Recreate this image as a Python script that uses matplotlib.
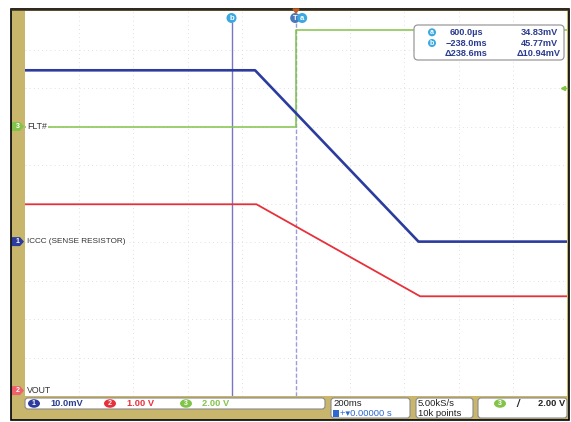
import numpy as np
import matplotlib.pyplot as plt
from matplotlib.patches import FancyBboxPatch, Rectangle, Ellipse, Polygon

plt.rcParams['font.family'] = ['Liberation Sans', 'DejaVu Sans']

# Scope settings: 10 x 10 divisions, 200 ms/div, trigger at centre
t_per_div = 0.2
n_div_x = 10
n_div_y = 10

# Channel 1: ICCC (sense resistor), mV, 10.0 mV/div
ch1_t = [-1.0, -0.151, 0.452, 1.0]
ch1_v = [44.5, 44.5, 0.0, 0.0]
ch1_scale = 10.0
ch1_pos = -0.99

# Channel 2: VOUT, V, 1.00 V/div
ch2_t = [-1.0, -0.146, 0.458, 1.0]
ch2_v = [4.84, 4.84, 2.45, 2.45]
ch2_scale = 1.0
ch2_pos = -4.86

# Channel 3: FLT#, V, 2.00 V/div
ch3_t = [-1.0, 0.0006, 0.0006, 1.0]
ch3_v = [0.0, 0.0, 5.0, 5.0]
ch3_scale = 2.0
ch3_pos = 2.0
trig_level = 2.0

# cursors
cursor_a = 0.0006
cursor_b = -0.238
readout = [("a", "600.0µs", "34.83mV"),
           ("b", "\u2212238.0ms", "45.77mV"),
           ("", "\u0394238.6ms", "\u039410.94mV")]

blue = "#2b3c9e"
red = "#e8303a"
green = "#82c44a"
tan = "#c8b66c"
navy = "#2a3c8f"
curs = "#7676c6"

W, H = 571, 422
fig = plt.figure(figsize=(W / 100, H / 100), dpi=100)

def pixel_axes(z):
    a = fig.add_axes([0, 0, 1, 1])
    a.set_xlim(0, W)
    a.set_ylim(H, 0)
    a.axis("off")
    a.set_zorder(z)
    a.patch.set_alpha(0)
    return a

bg = pixel_axes(0)
ov = pixel_axes(2)

x0, x1, y0, y1 = 25, 567, 11, 396
ax = fig.add_axes([x0 / W, 1 - y1 / H, (x1 - x0) / W, (y1 - y0) / H])
ax.set_xlim(-n_div_x / 2 * t_per_div, n_div_x / 2 * t_per_div)
ax.set_ylim(-n_div_y / 2, n_div_y / 2)
ax.set_xticks([])
ax.set_yticks([])
for s in ax.spines.values():
    s.set_visible(False)
ax.set_zorder(1)

# bezel
bg.add_patch(Rectangle((11, 9), 558, 411, facecolor=tan, edgecolor="black", lw=1.2, zorder=0))
ov.plot([11, 569], [10.3, 10.3], color="#3a2e1a", lw=1.1, zorder=1)

# graticule
for k in range(-4, 5):
    ax.axvline(k * t_per_div, color="#d6d6d6", lw=0.6, ls=(0, (1, 4)), zorder=0)
    ax.axhline(k, color="#d6d6d6", lw=0.6, ls=(0, (1, 4)), zorder=0)

# traces
ax.plot(ch2_t, np.array(ch2_v) / ch2_scale + ch2_pos, color=red, lw=1.3, zorder=3)
ax.plot(ch3_t, np.array(ch3_v) / ch3_scale + ch3_pos, color=green, lw=1.1, zorder=3)
ax.plot(ch1_t, np.array(ch1_v) / ch1_scale + ch1_pos, color=blue, lw=1.9, zorder=4)

# cursors
ax.plot([cursor_b, cursor_b], [-5, 4.7], color=curs, lw=1.0, zorder=2)
ax.plot([cursor_a, cursor_a], [-5, 4.7], color="#9c9cd8", lw=1.0, ls=(0, (3, 1.5)), zorder=2)

def px(t):
    return x0 + (t - ax.get_xlim()[0]) / (ax.get_xlim()[1] - ax.get_xlim()[0]) * (x1 - x0)

def py(d):
    return y1 - (d - ax.get_ylim()[0]) / (ax.get_ylim()[1] - ax.get_ylim()[0]) * (y1 - y0)

def badge(x, y, txt, fc, w=10, h=10, fs=5.5):
    ov.add_patch(Ellipse((x, y), w, h, facecolor=fc, edgecolor="none", zorder=6))
    ov.text(x, y + 0.3, txt, color="white", fontsize=fs, ha="center", va="center",
            fontweight="bold", zorder=7)

badge(px(cursor_b), 18, "b", "#3ca8e2")
badge(px(cursor_a) - 1, 18, "T", "#4a78bc")
badge(px(cursor_a) + 6, 18, "a", "#3ca8e2")
ov.add_patch(Polygon([[px(0) - 3, 9], [px(0) + 3, 9], [px(0), 13]], color="#c06020", zorder=6))

# trigger level arrow
ty = py(trig_level / ch3_scale + ch3_pos)
ov.plot([563, 567], [ty, ty], color=green, lw=1, zorder=6)
ov.plot([563], [ty], marker="<", ms=3, color=green, zorder=6)

# channel ground markers + labels
def tag(y, txt, fc):
    ov.add_patch(Polygon([[12, y - 4.5], [20, y - 4.5], [24, y], [20, y + 4.5], [12, y + 4.5]],
                         facecolor=fc, edgecolor="none", zorder=6))
    ov.text(17.5, y + 0.3, txt, color="white", fontsize=5, ha="center", va="center",
            fontweight="bold", zorder=7)

for ch, pos, fc, lab in [("3", ch3_pos, green, "FLT#"),
                         ("1", ch1_pos, blue, "ICCC (SENSE RESISTOR)"),
                         ("2", ch2_pos, "#f0606a", "VOUT")]:
    y = py(pos)
    tag(y, ch, fc)
    ov.text(27, y, lab, color="#333333", fontsize=6.3 if ch != "1" else 5.9,
            ha="left", va="center", zorder=7,
            bbox=dict(facecolor="white", edgecolor="none", pad=0.6))

# cursor readout box
ov.add_patch(FancyBboxPatch((414, 25), 150, 35, boxstyle="round,pad=0,rounding_size=4",
                            facecolor="white", edgecolor="#9a9a9a", lw=0.9, zorder=5))
for i, (c, tv, vv) in enumerate(readout):
    yy = 32.3 + i * 10.7
    if c:
        badge(432, yy, c, "#3ca8e2", w=8, h=8, fs=5)
    ov.text(466, yy, tv, color=navy, fontsize=6.6, fontweight="bold", ha="center", va="center", zorder=7)
    ov.text(539, yy, vv, color=navy, fontsize=6.6, fontweight="bold", ha="center", va="center", zorder=7)

# status bar
def sbox(xa, ya, w, h):
    ov.add_patch(FancyBboxPatch((xa, ya), w, h, boxstyle="round,pad=0,rounding_size=3",
                                facecolor="white", edgecolor="#8a8a8a", lw=0.8, zorder=5))

sbox(25, 398, 300, 11)
sbox(331, 398, 79, 20)
sbox(416, 398, 57, 20)
sbox(478, 398, 89, 20)

badge(34, 403.5, "1", blue, w=12, h=8.5, fs=5)
ov.text(50, 403.8, "10.0mV", color=navy, fontsize=6.7, fontweight="bold", ha="left", va="center", zorder=7)
badge(110, 403.5, "2", red, w=12, h=8.5, fs=5)
ov.text(127, 403.8, "1.00 V", color=red, fontsize=6.7, fontweight="bold", ha="left", va="center", zorder=7)
badge(186, 403.5, "3", green, w=12, h=8.5, fs=5)
ov.text(202, 403.8, "2.00 V", color=green, fontsize=6.7, fontweight="bold", ha="left", va="center", zorder=7)

ov.text(333, 403.5, "200ms", color="#222222", fontsize=6.8, ha="left", va="center", zorder=7)
ov.add_patch(Rectangle((333, 409.5), 6, 7, facecolor="#2d6ad0", zorder=7))
ov.text(340, 413.5, "+\u25be0.00000 s", color="#2d6ad0", fontsize=6.8, ha="left", va="center", zorder=7)
ov.text(418, 403.5, "5.00kS/s", color="#222222", fontsize=6.8, ha="left", va="center", zorder=7)
ov.text(418, 413.5, "10k points", color="#222222", fontsize=6.8, ha="left", va="center", zorder=7)
badge(500, 403.5, "3", green, w=12, h=8.5, fs=5)
ov.text(518, 403.8, "/", color="#222222", fontsize=7, fontweight="bold", fontstyle="italic",
        ha="center", va="center", zorder=7)
ov.text(565, 403.8, "2.00 V", color="#222222", fontsize=6.7, fontweight="bold", ha="right", va="center", zorder=7)

fig.savefig("out.png", dpi=100)
